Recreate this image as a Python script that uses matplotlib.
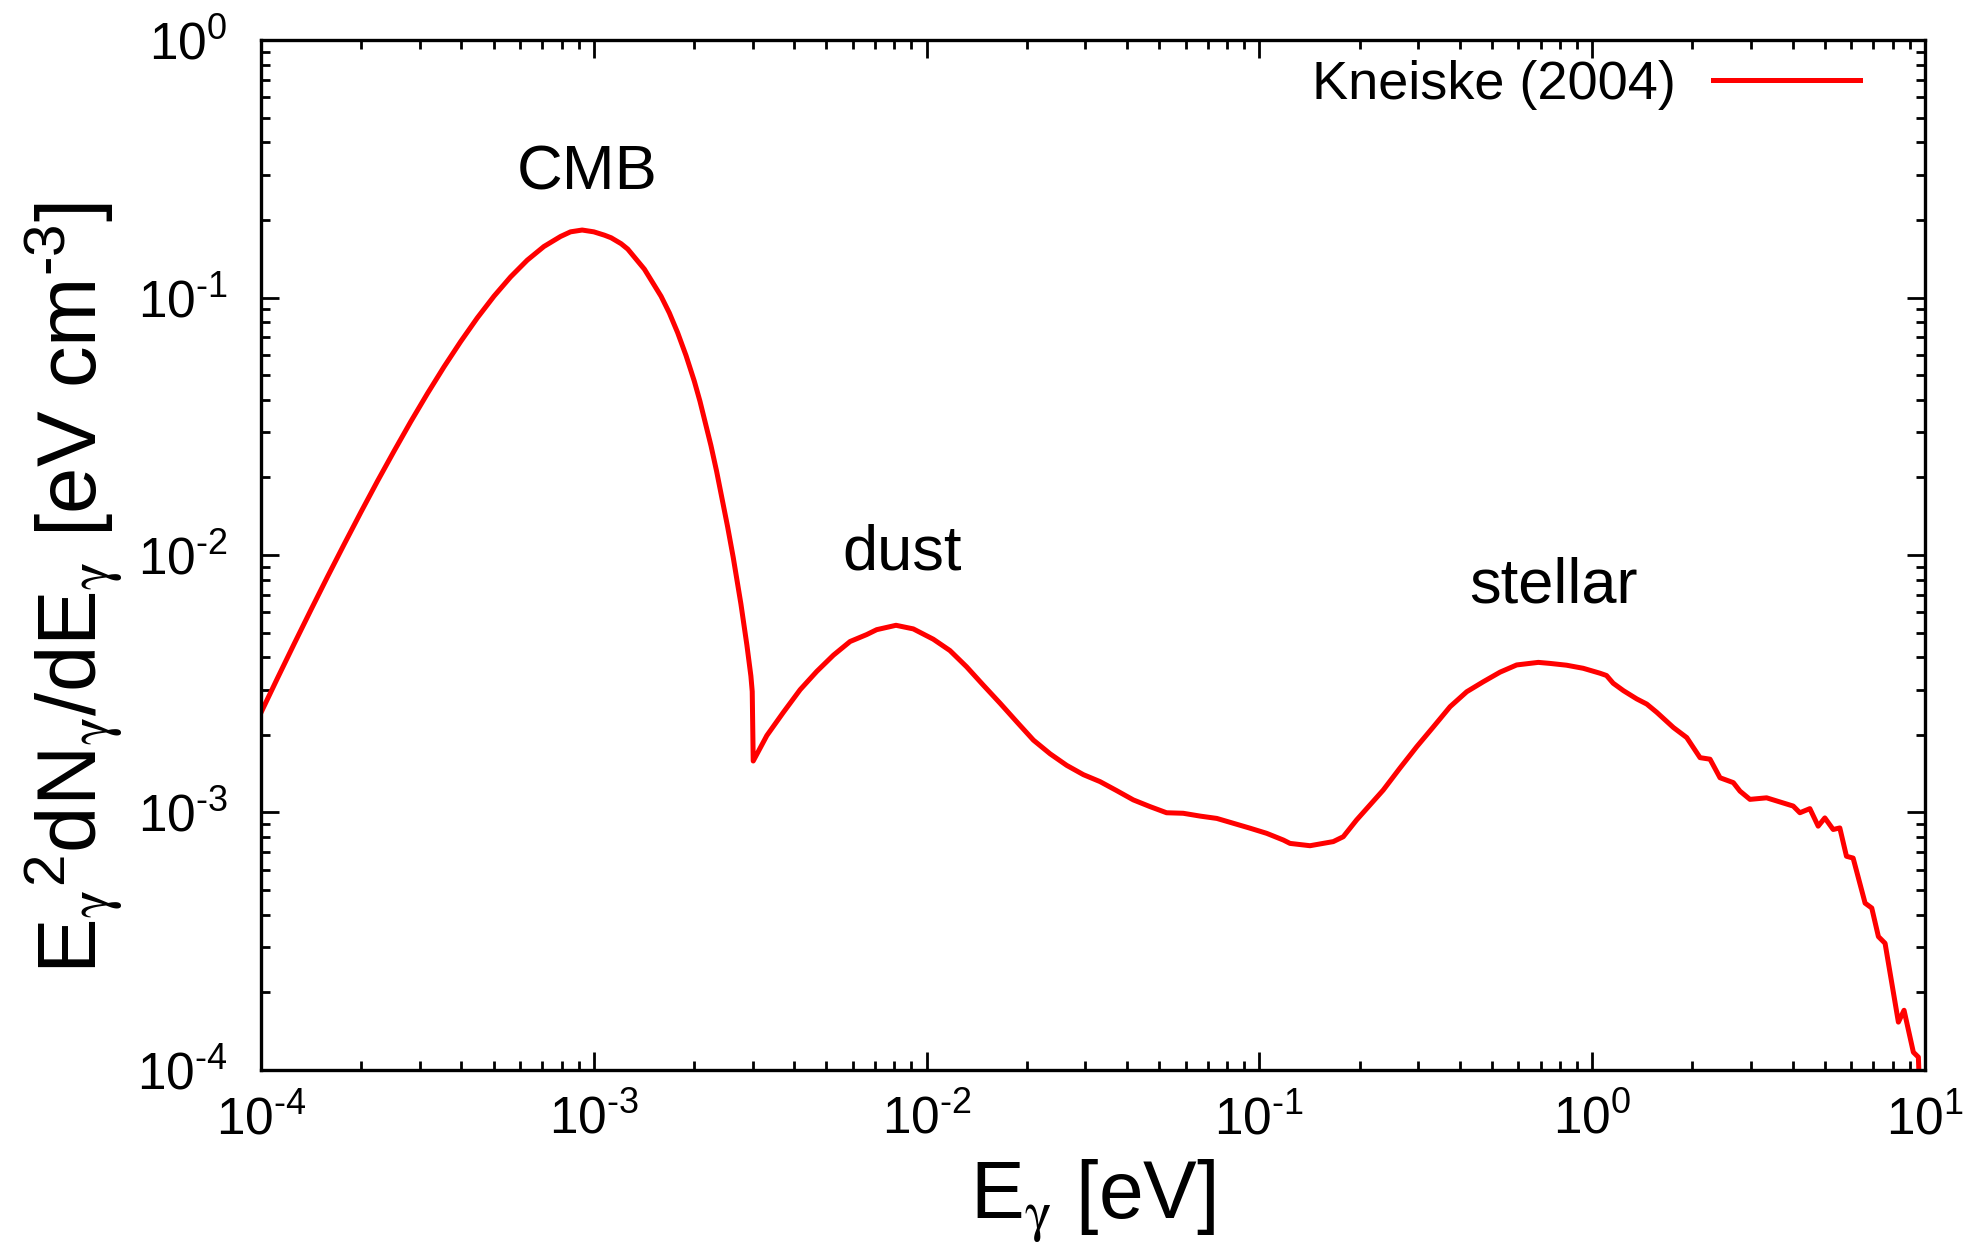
import matplotlib
matplotlib.use("Agg")
import matplotlib.pyplot as plt
from matplotlib.ticker import FixedLocator, FixedFormatter, NullFormatter

plt.rcParams['font.family'] = ['Liberation Sans', 'DejaVu Sans']
plt.rcParams['mathtext.fontset'] = 'custom'
plt.rcParams['mathtext.rm'] = 'Liberation Sans'
plt.rcParams['mathtext.it'] = 'Liberation Sans:italic'
plt.rcParams['mathtext.bf'] = 'Liberation Sans:bold'
plt.rcParams['mathtext.sf'] = 'STIXGeneral'
plt.rcParams['mathtext.default'] = 'regular'

# ---- data ----
log_energy = [
    -4.000, -3.950, -3.900, -3.850, -3.800, -3.750, -3.700, -3.650, -3.600,
    -3.550, -3.500, -3.450, -3.400, -3.350, -3.300, -3.250, -3.200, -3.150,
    -3.100, -3.070, -3.035, -3.000, -2.968, -2.948, -2.918, -2.898, -2.848,
    -2.798, -2.773, -2.748, -2.723, -2.698, -2.681, -2.648, -2.631, -2.598,
    -2.581, -2.558, -2.540, -2.528, -2.524, -2.521,
    -2.480, -2.431, -2.380, -2.330, -2.280, -2.230, -2.180, -2.150, -2.092,
    -2.040, -1.980, -1.930, -1.880, -1.830, -1.779, -1.729, -1.679, -1.629,
    -1.579, -1.529, -1.479, -1.429, -1.379, -1.329, -1.279, -1.229, -1.178,
    -1.128, -1.078, -1.028, -0.978, -0.928, -0.908, -0.848, -0.778, -0.748,
    -0.708, -0.668, -0.628, -0.578, -0.527, -0.477, -0.427, -0.377, -0.327,
    -0.277, -0.227, -0.162, -0.127, -0.077, -0.027, 0.023, 0.043, 0.063,
    0.094, 0.134, 0.164, 0.194, 0.244, 0.284, 0.324, 0.354, 0.384, 0.424,
    0.444, 0.474, 0.524, 0.604, 0.624, 0.654, 0.679, 0.699, 0.724, 0.744,
    0.764, 0.784, 0.820, 0.840, 0.860, 0.880, 0.920, 0.937, 0.965, 0.980,
    0.983,
]
log_density = [
    -2.612, -2.477, -2.344, -2.213, -2.084, -1.958, -1.834, -1.713, -1.596,
    -1.482, -1.373, -1.269, -1.171, -1.079, -0.995, -0.920, -0.855, -0.802,
    -0.763, -0.745, -0.738, -0.745, -0.758, -0.768, -0.791, -0.812, -0.890,
    -0.995, -1.060, -1.137, -1.225, -1.325, -1.403, -1.575, -1.675, -1.890,
    -2.010, -2.190, -2.350, -2.470, -2.530, -2.800,
    -2.701, -2.612, -2.523, -2.452, -2.389, -2.336, -2.309, -2.290, -2.273,
    -2.287, -2.327, -2.371, -2.434, -2.505, -2.576, -2.648, -2.719, -2.772,
    -2.817, -2.853, -2.880, -2.915, -2.951, -2.977, -3.001, -3.003, -3.014,
    -3.023, -3.042, -3.061, -3.081, -3.107, -3.120, -3.129, -3.113, -3.094,
    -3.029, -2.971, -2.913, -2.828, -2.744, -2.667, -2.589, -2.531, -2.492,
    -2.455, -2.427, -2.417, -2.421, -2.428, -2.440, -2.459, -2.468, -2.498,
    -2.527, -2.559, -2.579, -2.611, -2.670, -2.709, -2.787, -2.793, -2.865,
    -2.884, -2.917, -2.949, -2.943, -2.975, -3.001, -2.985, -3.053, -3.021,
    -3.066, -3.060, -3.170, -3.177, -3.352, -3.371, -3.482, -3.508, -3.814,
    -3.768, -3.931, -3.950, -4.050,
]
energy = [10.0 ** v for v in log_energy]
density = [10.0 ** v for v in log_density]

series_label = "Kneiske (2004)"
x_ticks = [1e-4, 1e-3, 1e-2, 1e-1, 1e0, 1e1]
x_tick_labels = [r'$10^{\text{-}4}$', r'$10^{\text{-}3}$', r'$10^{\text{-}2}$',
                 r'$10^{\text{-}1}$', r'$10^{0}$', r'$10^{1}$']
y_ticks = [1e-4, 1e-3, 1e-2, 1e-1, 1e0]
y_tick_labels = [r'$10^{\text{-}4}$', r'$10^{\text{-}3}$', r'$10^{\text{-}2}$',
                 r'$10^{\text{-}1}$', r'$10^{0}$']
annotations = [("CMB", 10 ** -3.02, 10 ** -0.579),
               ("dust", 10 ** -2.074, 10 ** -2.058),
               ("stellar", 10 ** -0.115, 10 ** -2.186)]

# ---- figure ----
fig = plt.figure(figsize=(19.79, 12.52), dpi=100)
ax = fig.add_axes([0.13189, 0.14537, 0.84083, 0.82268])

ax.plot(energy, density, color='#ff0000', lw=3.6, label=series_label,
        solid_joinstyle='round')
ax.set_xscale('log')
ax.set_yscale('log')
ax.set_xlim(1e-4, 1e1)
ax.set_ylim(1e-4, 1e0)

minor_x = [m * 10.0 ** d for d in range(-4, 1) for m in range(2, 10)]
minor_y = [m * 10.0 ** d for d in range(-4, 0) for m in range(2, 10)]
ax.xaxis.set_major_locator(FixedLocator(x_ticks))
ax.xaxis.set_major_formatter(FixedFormatter(x_tick_labels))
ax.xaxis.set_minor_locator(FixedLocator(minor_x))
ax.xaxis.set_minor_formatter(NullFormatter())
ax.yaxis.set_major_locator(FixedLocator(y_ticks))
ax.yaxis.set_major_formatter(FixedFormatter(y_tick_labels))
ax.yaxis.set_minor_locator(FixedLocator(minor_y))
ax.yaxis.set_minor_formatter(NullFormatter())

for s in ax.spines.values():
    s.set_linewidth(2.4)
ax.tick_params(which='both', direction='in', top=True, right=True, width=2.0,
               colors='black')
ax.tick_params(which='major', length=13)
ax.tick_params(which='minor', length=6.5)
ax.tick_params(axis='x', which='major', labelsize=37, pad=18)
ax.tick_params(axis='y', which='major', labelsize=37, pad=24)

g = r'\mathsf{\gamma}'
ax.set_xlabel(r'$E_{%s}$ [eV]' % g, fontsize=58)
ax.set_ylabel(r'$E_{%s}{}^{2}dN_{%s}/dE_{%s}$ [eV cm$^{\text{-}3}$]' % (g, g, g),
              fontsize=60)
ax.xaxis.set_label_coords(0.5, -0.085)
ax.yaxis.set_label_coords(-0.082, 0.468)

for txt, xv, yv in annotations:
    ax.text(xv, yv, txt, fontsize=45.5, ha='center', va='baseline')

ax.legend(loc='upper right', bbox_to_anchor=(0.961, 0.981), frameon=False,
          markerfirst=False, fontsize=39, handlelength=2.72, handletextpad=0.68,
          borderaxespad=0, borderpad=0)

fig.savefig('out.png', dpi=100)
